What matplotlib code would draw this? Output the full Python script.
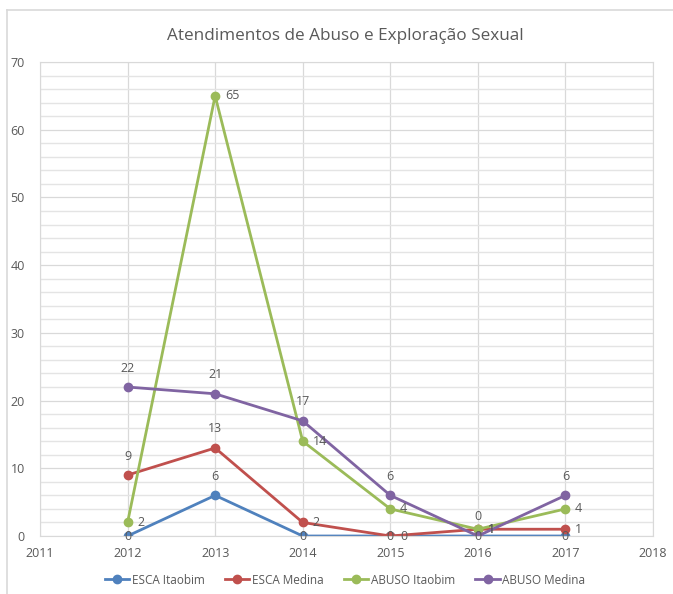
import numpy as np
import matplotlib
matplotlib.use('agg')
import matplotlib.pyplot as plt
from matplotlib.lines import Line2D

## Data
years = [2012, 2013, 2014, 2015, 2016, 2017]
esca_itaobim = [0, 6, 0, 0, 0, 0]
esca_medina = [9, 13, 2, 0, 1, 1]
abuso_itaobim = [2, 65, 14, 4, 1, 4]
abuso_medina = [22, 21, 17, 6, 0, 6]
series_names = ['ESCA Itaobim', 'ESCA Medina', 'ABUSO Itaobim', 'ABUSO Medina']
title = 'Atendimentos de Abuso e Exploração Sexual'

colors = ['#4F81BD', '#C0504D', '#9BBB59', '#8064A2']
txt = '#595959'

plt.rcParams['font.family'] = ['Open Sans', 'DejaVu Sans']

fig = plt.figure(figsize=(6.73, 5.94), dpi=100)
ax = fig.add_axes([40/673, 58/594, 613/673, 474/594])

# outer chart border
fig.add_artist(Line2D([7/673, 7/673], [0, 584/594], color='#D9D9D9', lw=1.2))
fig.add_artist(Line2D([7/673, 1], [584/594, 584/594], color='#D9D9D9', lw=1.2))

ax.set_xlim(2011, 2018)
ax.set_ylim(0, 70)
ax.set_xticks(range(2011, 2019))
ax.set_yticks(range(0, 71, 10))
ax.set_yticks(range(0, 71, 2), minor=True)
ax.tick_params(axis='both', which='both', length=0, colors=txt, labelsize=9)
ax.tick_params(axis='x', pad=8)
ax.tick_params(axis='y', pad=11)
ax.grid(True, which='major', color='#D9D9D9', lw=0.9)
ax.grid(True, which='minor', axis='y', color='#E4E4E4', lw=1.0)
ax.set_axisbelow(True)
for s in ax.spines.values():
    s.set_color('#D9D9D9')

data = [esca_itaobim, esca_medina, abuso_itaobim, abuso_medina]
for vals, c, name in zip(data, colors, series_names):
    ax.plot(years, vals, color=c, lw=2, marker='o', ms=6, label=name)

# data labels
def lab(x, y, t, pos):
    if pos == 'center':
        ax.annotate(t, (x, y), ha='center', va='center', color=txt, fontsize=9)
    elif pos == 'above':
        ax.annotate(t, (x, y), xytext=(0, 9), textcoords='offset points',
                    ha='center', va='bottom', color=txt, fontsize=9)
    else:
        ax.annotate(t, (x, y), xytext=(7, 0), textcoords='offset points',
                    ha='left', va='center', color=txt, fontsize=9)

for x, v in zip(years, esca_itaobim):
    lab(x, v, str(v), 'above' if v > 0 else 'center')
for i, (x, v) in enumerate(zip(years, esca_medina)):
    lab(x, v, str(v), 'above' if i < 2 else 'right')
for x, v in zip(years, abuso_itaobim):
    lab(x, v, str(v), 'right')
for x, v in zip(years, abuso_medina):
    lab(x, v, str(v), 'above')

fig.text(345/673, 1 - 36/594, title, ha='center', va='center', fontsize=12.3, color=txt)

fig.legend(loc='center', bbox_to_anchor=(345/673, 1 - 580/594), ncol=4, frameon=False,
           fontsize=8.5, labelcolor=txt, handlelength=2.1, columnspacing=1.7,
           handletextpad=0.2)

plt.savefig('out.png', dpi=100)
